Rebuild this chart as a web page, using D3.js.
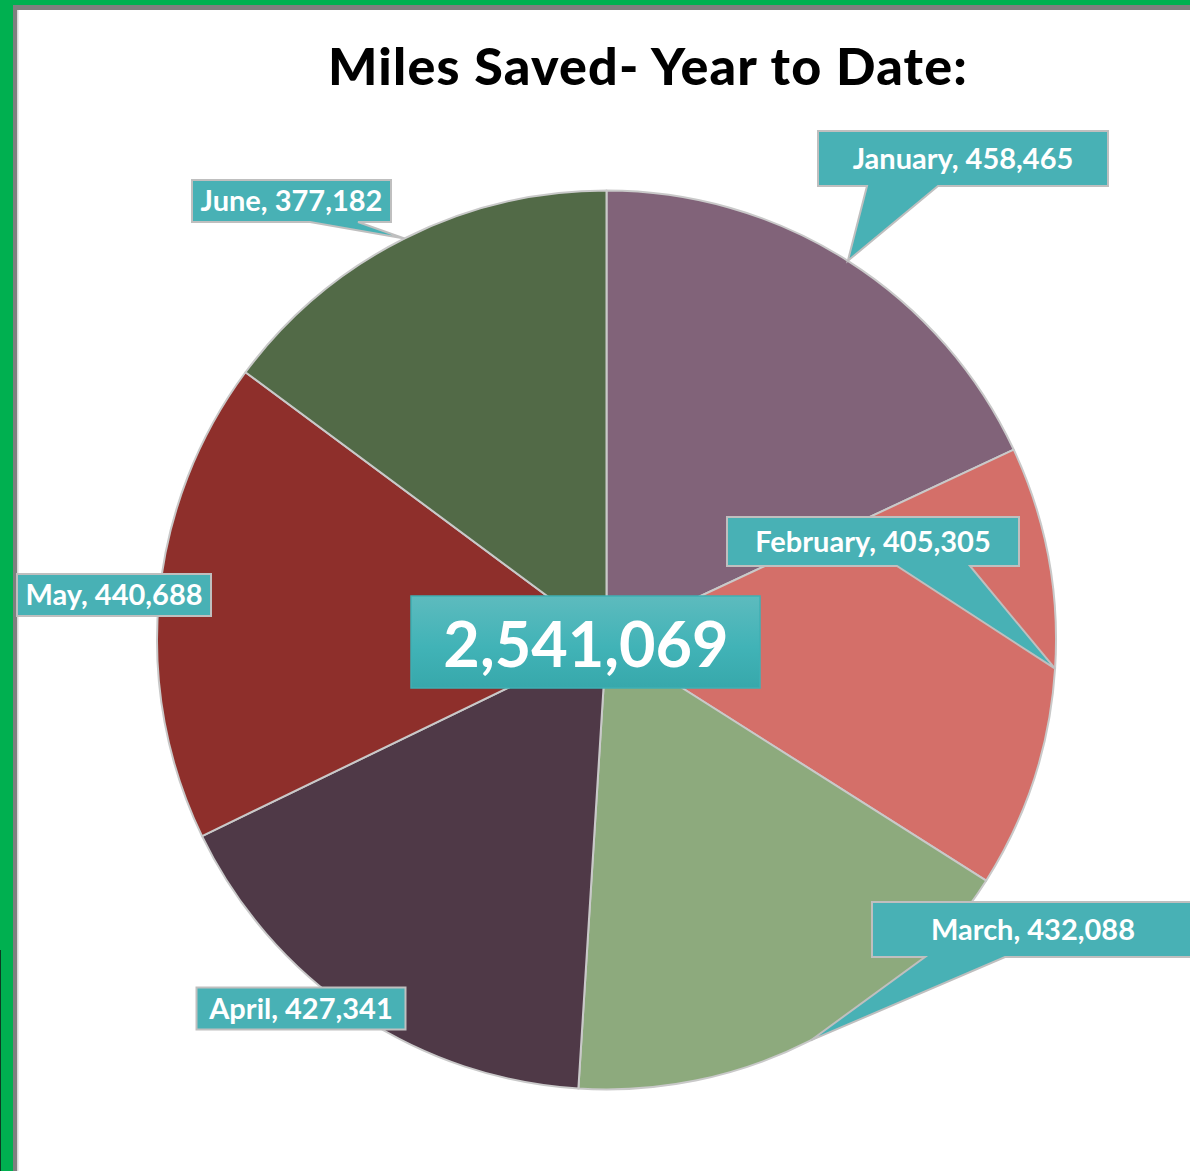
<!DOCTYPE html>
<html>
<head>
<meta charset="utf-8">
<script src="https://cdn.jsdelivr.net/npm/d3@7/dist/d3.min.js"></script>
<style>
  html, body { margin: 0; padding: 0; background: #fff; }
  svg { display: block; }
</style>
</head>
<body>
<svg id="chart" width="1190" height="1171"></svg>
<script>
// ---- Data ----
const months = ["January", "February", "March", "April", "May", "June"];
const miles = [458465, 405305, 432088, 427341, 440688, 377182];
const sliceColors = ["#816379", "#D46F69", "#8DAA7D", "#4F3947", "#8E2F2B", "#526A47"];
const titleText = "Miles Saved- Year to Date:";

// ---- Layout (label box centres, sizes, pointer bases) ----
const labelLayout = [
  { cx: 963, cy: 158.5, w: 290, h: 55, pointer: [49, 120] },   // January
  { cx: 873, cy: 541.5, w: 292, h: 49, pointer: [170, 243] },  // February
  { cx: 1033, cy: 929.5, w: 322, h: 55, pointer: [53, 133] },  // March
  { cx: 301, cy: 1008.5, w: 209, h: 42, pointer: null },       // April
  { cx: 114, cy: 595, w: 194, h: 42, pointer: null },          // May
  { cx: 291.5, cy: 201, w: 199, h: 42, pointer: [118, 166] }   // June
];

const W = 1190, H = 1171;
const cx = 606.5, cy = 640, R = 449.5;
const svg = d3.select("#chart");
const FONT = "Lato, 'Open Sans', sans-serif";

// frame
svg.append("rect").attr("x", 0).attr("y", 0).attr("width", W).attr("height", H).attr("fill", "#fff");
svg.append("rect").attr("x", 0).attr("y", 0).attr("width", W).attr("height", 5).attr("fill", "#00B050");
svg.append("rect").attr("x", 0).attr("y", 0).attr("width", 13).attr("height", H).attr("fill", "#00B050");
svg.append("rect").attr("x", 13).attr("y", 5).attr("width", W - 13).attr("height", 5).attr("fill", "#7F7F7F");
svg.append("rect").attr("x", 13).attr("y", 5).attr("width", 4).attr("height", H - 5).attr("fill", "#7F7F7F");
svg.append("rect").attr("x", 17).attr("y", 10).attr("width", 1.5).attr("height", H - 10).attr("fill", "#D9D9D9");
svg.append("rect").attr("x", 0).attr("y", 950).attr("width", 1).attr("height", H - 950).attr("fill", "#0B3D22");

// title
svg.append("text")
  .attr("x", 648).attr("y", 85)
  .attr("text-anchor", "middle")
  .attr("font-family", FONT)
  .attr("font-weight", 900)
  .attr("font-size", 52)
  .attr("letter-spacing", 1.2)
  .attr("fill", "#000")
  .text(titleText);

// pie
const data = months.map((m, i) => ({ month: m, value: miles[i], color: sliceColors[i], layout: labelLayout[i] }));
const pie = d3.pie().value(d => d.value).sort(null);
const arcs = pie(data);
const arc = d3.arc().innerRadius(0).outerRadius(R);

const g = svg.append("g").attr("transform", `translate(${cx},${cy})`);
g.selectAll("path.slice")
  .data(arcs)
  .join("path")
  .attr("class", "slice")
  .attr("d", arc)
  .attr("fill", d => d.data.color)
  .attr("stroke", "#C9C9C9")
  .attr("stroke-width", 2)
  .attr("stroke-linejoin", "round");

// callouts
const fmt = d3.format(",");
arcs.forEach(a => {
  const L = a.data.layout;
  const left = L.cx - L.w / 2, right = L.cx + L.w / 2, top = L.cy - L.h / 2, bottom = L.cy + L.h / 2;
  let p;
  if (L.pointer) {
    const mid = (a.startAngle + a.endAngle) / 2;
    const tip = [cx + R * Math.sin(mid), cy - R * Math.cos(mid)];
    p = `M${left},${top}H${right}V${bottom}H${left + L.pointer[1]}L${tip[0]},${tip[1]}L${left + L.pointer[0]},${bottom}H${left}Z`;
  } else {
    p = `M${left},${top}H${right}V${bottom}H${left}Z`;
  }
  svg.append("path")
    .attr("d", p)
    .attr("fill", "#48B1B5")
    .attr("stroke", "#BFBFBF")
    .attr("stroke-width", 2)
    .attr("stroke-linejoin", "miter");
  svg.append("text")
    .attr("x", L.cx).attr("y", L.cy)
    .attr("dy", "0.36em")
    .attr("text-anchor", "middle")
    .attr("font-family", FONT)
    .attr("font-weight", 700)
    .attr("font-size", 29)
    .attr("fill", "#fff")
    .text(`${a.data.month}, ${fmt(a.data.value)}`);
});

// centre total
const total = d3.sum(miles);
const defs = svg.append("defs");
const grad = defs.append("linearGradient").attr("id", "tealGrad").attr("x1", 0).attr("y1", 0).attr("x2", 0).attr("y2", 1);
grad.append("stop").attr("offset", "0%").attr("stop-color", "#5DBBBE");
grad.append("stop").attr("offset", "55%").attr("stop-color", "#41B3B7");
grad.append("stop").attr("offset", "100%").attr("stop-color", "#37A8AB");
svg.append("rect")
  .attr("x", 411).attr("y", 596).attr("width", 349).attr("height", 92)
  .attr("fill", "url(#tealGrad)")
  .attr("stroke", "#3FB0B4").attr("stroke-width", 1.5);
svg.append("text")
  .attr("x", 586).attr("y", 667)
  .attr("text-anchor", "middle")
  .attr("font-family", FONT)
  .attr("font-weight", 700)
  .attr("font-size", 63)
  .attr("fill", "#fff")
  .text(fmt(total));
</script>
</body>
</html>
